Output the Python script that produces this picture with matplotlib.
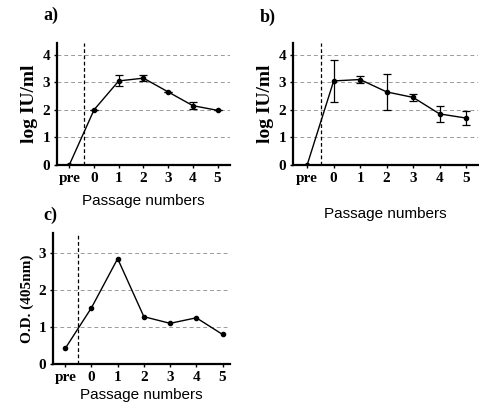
import matplotlib
matplotlib.use("Agg")
import matplotlib.pyplot as plt

categories = ["pre", "0", "1", "2", "3", "4", "5"]
xpos = [-1, 0, 1, 2, 3, 4, 5]

a_values = [0.0, 2.0, 3.05, 3.15, 2.65, 2.15, 1.98]
a_errors = [0.0, 0.0, 0.2, 0.12, 0.0, 0.12, 0.0]

b_values = [0.0, 3.05, 3.1, 2.65, 2.45, 1.85, 1.7]
b_errors = [0.0, 0.75, 0.12, 0.65, 0.12, 0.28, 0.25]

c_values = [0.42, 1.52, 2.85, 1.28, 1.1, 1.25, 0.8]

SERIF = "Liberation Serif"
SANS = "Liberation Sans"

fig = plt.figure(figsize=(4.79, 4.09), dpi=100)
fig.patch.set_facecolor("white")

def style(ax, ylabel, xlim, ylim, yticks, vline):
    for s in ["top", "right"]:
        ax.spines[s].set_visible(False)
    for s in ["left", "bottom"]:
        ax.spines[s].set_linewidth(1.6)
    ax.set_xlim(*xlim)
    ax.set_ylim(*ylim)
    ax.set_xticks(xpos)
    ax.set_xticklabels(categories, fontfamily=SERIF, fontweight="bold", fontsize=11)
    ax.set_yticks(yticks)
    ax.set_yticklabels([str(t) for t in yticks], fontfamily=SERIF, fontweight="bold", fontsize=11)
    ax.tick_params(axis="both", length=2, width=1, pad=3)
    for t in yticks[1:]:
        ax.axhline(t, color="#9a9a9a", lw=0.7, ls=(0, (4, 3)), zorder=0)
    ax.axvline(vline, color="black", lw=0.9, ls=(0, (3, 2)), zorder=1)
    ax.set_ylabel(ylabel, fontfamily=SERIF, fontweight="bold", fontsize=14, labelpad=3)
    ax.set_xlabel("Passage numbers", fontfamily=SANS, fontsize=11, labelpad=7)

ax_a = fig.add_axes([0.119, 0.597, 0.361, 0.298])
ax_a.errorbar(xpos, a_values, yerr=a_errors, color="black", lw=1.0, marker="o",
              ms=3, capsize=3, elinewidth=0.9, capthick=0.9, zorder=3)
style(ax_a, "log IU/ml", (-1.5, 5.5), (0, 4.43), [0, 1, 2, 3, 4], -0.4)

ax_b = fig.add_axes([0.612, 0.597, 0.386, 0.298])
ax_b.errorbar(xpos, b_values, yerr=b_errors, color="black", lw=1.0, marker="o",
              ms=3, capsize=3, elinewidth=0.9, capthick=0.9, zorder=3)
style(ax_b, "log IU/ml", (-1.53, 5.45), (0, 4.43), [0, 1, 2, 3, 4], -0.47)
ax_b.xaxis.labelpad = 16

ax_c = fig.add_axes([0.111, 0.110, 0.370, 0.320])
ax_c.plot(xpos, c_values, color="black", lw=1.0, marker="o", ms=3, zorder=3)
style(ax_c, "O.D. (405nm)", (-1.46, 5.3), (0, 3.54), [0, 1, 2, 3], -0.5)
ax_c.xaxis.labelpad = 3
ax_c.yaxis.label.set_fontsize(11)

fig.text(0.09, 0.963, "a)", fontfamily=SERIF, fontweight="bold", fontsize=13, va="center")
fig.text(0.543, 0.958, "b)", fontfamily=SERIF, fontweight="bold", fontsize=13, va="center")
fig.text(0.09, 0.474, "c)", fontfamily=SERIF, fontweight="bold", fontsize=13, va="center")

fig.savefig("out.png", dpi=100, facecolor="white")
